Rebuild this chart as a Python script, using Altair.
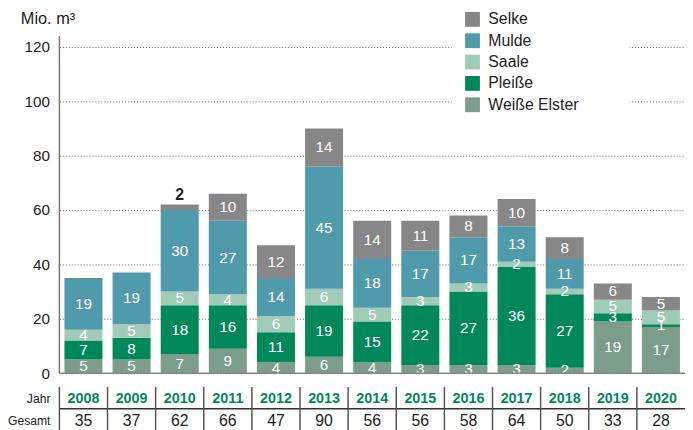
import altair as alt
import pandas as pd

years = [2008, 2009, 2010, 2011, 2012, 2013, 2014, 2015, 2016, 2017, 2018, 2019, 2020]
weisse_elster = [5, 5, 7, 9, 4, 6, 4, 3, 3, 3, 2, 19, 17]
pleisse = [7, 8, 18, 16, 11, 19, 15, 22, 27, 36, 27, 3, 1]
saale = [4, 5, 5, 4, 6, 6, 5, 3, 3, 2, 2, 5, 5]
mulde = [19, 19, 30, 27, 14, 45, 18, 17, 17, 13, 11, 0, 0]
selke = [0, 0, 2, 10, 12, 14, 14, 11, 8, 10, 8, 6, 5]
gesamt = [35, 37, 62, 66, 47, 90, 56, 56, 58, 64, 50, 33, 28]

stack_order = ["Weiße Elster", "Pleiße", "Saale", "Mulde", "Selke"]
legend_order = ["Selke", "Mulde", "Saale", "Pleiße", "Weiße Elster"]
legend_colors = ["#878787", "#4f9aab", "#a0cbb6", "#00875a", "#7b9d89"]
y_ticks = [0, 20, 40, 60, 80, 100, 120]
row_labels = ["Jahr", "Gesamt"]
y_title = "Mio. m³"

FONT = "Liberation Sans"
TXT = "#222222"

series = [weisse_elster, pleisse, saale, mulde, selke]
rows = []
for i, yr in enumerate(years):
    for k, name in enumerate(stack_order):
        rows.append({"Jahr": str(yr), "Fluss": name, "Wert": series[k][i], "ord": k})
df = pd.DataFrame(rows)
tot = pd.DataFrame({"Jahr": [str(y) for y in years], "Gesamt": [str(g) for g in gesamt]})
seps = pd.DataFrame({"i": list(range(len(years)))})
one = pd.DataFrame({"a": [0]})

W = 633
H = 399
TOP = 31  # page y of plot top (8 margin + 23 padding)
LEFT = 60  # page x of plot left

xscale = alt.Scale(domain=[str(y) for y in years], paddingInner=0.21, paddingOuter=0.105)
yscale = alt.Scale(domain=[-20, 125], nice=False, zero=False)

stacked = alt.Chart(df).transform_stack(
    stack="Wert", groupby=["Jahr"], as_=["y0", "y1"], sort=[alt.SortField("ord", order="ascending")]
).transform_calculate(
    mid="(datum.y0 + datum.y1) / 2",
    outside="datum.Fluss == 'Selke' && datum.Wert < 3",
)

# white panel behind legend (hides grid lines there)
legend_bg = alt.Chart(one).mark_rect(color="white").encode(
    x=alt.value(397), x2=alt.value(577), y=alt.value(-24), y2=alt.value(85)
)

bars = stacked.transform_filter("datum.Wert > 0").mark_bar().encode(
    x=alt.X("Jahr:N", scale=xscale, axis=None),
    y=alt.Y(
        "y0:Q",
        scale=yscale,
        axis=alt.Axis(
            values=y_ticks, grid=True, gridDash=[1, 2], gridColor="#666", gridWidth=1,
            domain=False, ticks=False, labelPadding=10, labelFontSize=15.5, labelFont=FONT,
            labelColor=TXT, title=None,
        ),
    ),
    y2="y1:Q",
    color=alt.Color(
        "Fluss:N",
        scale=alt.Scale(domain=legend_order, range=legend_colors),
        legend=alt.Legend(
            orient="none", legendX=402, legendY=-30, title=None, symbolType="square",
            symbolSize=225, symbolStrokeWidth=0, symbolOpacity=1, labelFontSize=16,
            labelFont=FONT, labelColor=TXT, rowPadding=5.6, padding=8, labelOffset=8,
        ),
    ),
)

title_text = alt.Chart(pd.DataFrame({"t": [y_title]})).mark_text(
    color=TXT, fontSize=16.5, font=FONT, align="left", baseline="middle"
).encode(x=alt.value(21 - LEFT), y=alt.value(17 - TOP), text="t:N")

inside_labels = stacked.transform_filter("datum.Wert > 0 && !datum.outside").mark_text(
    color="white", fontSize=15.5, font=FONT, baseline="middle"
).encode(
    x=alt.X("Jahr:N", scale=xscale, axis=None),
    y=alt.Y("mid:Q", scale=yscale),
    text="Wert:Q",
)

outside_labels = stacked.transform_filter("datum.Wert > 0 && datum.outside").mark_text(
    color=TXT, fontSize=16, font=FONT, fontWeight="bold", baseline="bottom", dy=-2
).encode(
    x=alt.X("Jahr:N", scale=xscale, axis=None),
    y=alt.Y("y1:Q", scale=yscale),
    text="Wert:Q",
)

y_axis_line = alt.Chart(one).mark_rule(color="#777", strokeWidth=1.5).encode(
    x=alt.value(0), y=alt.Y(datum=0, scale=yscale), y2=alt.Y2(datum=124)
)
baseline = alt.Chart(one).mark_rule(color="#888", strokeWidth=1.5).encode(
    x=alt.value(0), x2=alt.value(W), y=alt.Y(datum=0, scale=yscale)
)

# table below the chart
year_text = alt.Chart(tot).mark_text(
    color="#00875a", fontSize=14.5, font=FONT, fontWeight="bold", baseline="middle"
).encode(
    x=alt.X("Jahr:N", scale=xscale, axis=None),
    y=alt.value(401.5 - TOP),
    text="Jahr:N",
)
total_text = alt.Chart(tot).mark_text(
    color=TXT, fontSize=16, font=FONT, baseline="middle"
).encode(
    x=alt.X("Jahr:N", scale=xscale, axis=None),
    y=alt.value(423 - TOP),
    text="Gesamt:N",
)
lab_jahr = alt.Chart(pd.DataFrame({"t": [row_labels[0]]})).mark_text(
    color=TXT, fontSize=12.3, font=FONT, align="right", baseline="middle"
).encode(x=alt.value(-9), y=alt.value(401.5 - TOP), text="t:N")
lab_ges = alt.Chart(pd.DataFrame({"t": [row_labels[1]]})).mark_text(
    color=TXT, fontSize=12.3, font=FONT, align="right", baseline="middle"
).encode(x=alt.value(-9), y=alt.value(423 - TOP), text="t:N")

hline = alt.Chart(one).mark_rule(color="#333", strokeWidth=1.5).encode(
    x=alt.value(0), x2=alt.value(W), y=alt.value(411 - TOP)
)
vlines = alt.Chart(seps).mark_rule(color="#555", strokeWidth=1.5).encode(
    x=alt.X("i:Q", scale=alt.Scale(domain=[0, len(years)], nice=False, zero=False), axis=None),
    y=alt.value(389 - TOP),
    y2=alt.value(H + 10),
)

chart = alt.layer(
    legend_bg, bars, title_text, inside_labels, outside_labels, y_axis_line, baseline,
    year_text, total_text, lab_jahr, lab_ges, hline, vlines,
).resolve_scale(x="independent").properties(
    width=W, height=H,
    autosize=alt.AutoSizeParams(type="none"),
    padding={"left": 52, "top": 23, "right": 0, "bottom": 0},
).configure_view(stroke=None)

chart.save("out.html", embed_options={"renderer": "svg", "actions": False})
